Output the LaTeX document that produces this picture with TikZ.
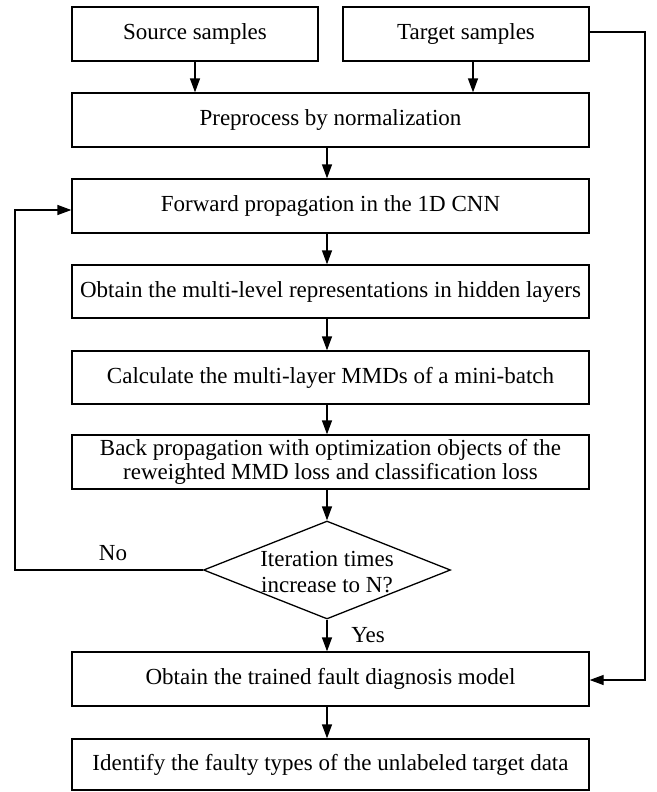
\documentclass[tikz,border=0pt]{standalone}
\usepackage{fontspec}
\setmainfont{Liberation Serif}
\usetikzlibrary{arrows.meta,shapes.geometric}
\begin{document}
\begin{tikzpicture}[x=1pt,y=-1pt,
  lw/.style={line width=1.3pt},
  txt/.style={font=\fontsize{23}{25}\selectfont},
  box/.style={draw,lw,txt,rectangle,inner sep=0pt,minimum height=54pt,align=center},
  wbox/.style={box,minimum width=517pt},
  sbox/.style={box,minimum width=246pt},
  arr/.style={lw,-{Triangle[length=14pt,width=10pt]}},
  lbl/.style={txt,inner sep=0pt}
]
\useasboundingbox (0,0) rectangle (656,792);
\node[sbox] (src) at (195,34) {Source samples};
\node[sbox] (tgt) at (466,34) {Target samples};
\node[wbox] (pre) at (330.5,120) {Preprocess by normalization};
\node[wbox] (fwd) at (330.5,206) {Forward propagation in the 1D CNN};
\node[wbox,minimum height=53pt] (rep) at (330.5,291.5) {Obtain the multi-level representations in hidden layers};
\node[wbox,minimum height=53pt] (mmd) at (330.5,377.5) {Calculate the multi-layer MMDs of a mini-batch};
\node[wbox] (back) at (330.5,462) {Back propagation with optimization objects of the\\[-1pt]reweighted MMD loss and classification loss};
\node[draw,lw,shape=diamond,minimum width=247pt,minimum height=98pt,inner sep=0pt] (dec) at (327,570) {};
\node[lbl,align=center,font=\fontsize{23}{26}\selectfont] (dect) at (327,572) {Iteration times\\increase to N?};
\node[wbox] (trn) at (330.5,679) {Obtain the trained fault diagnosis model};
\node[wbox,minimum height=51pt] (idf) at (330.5,764.5) {Identify the faulty types of the unlabeled target data};
\node[lbl] (no) at (113,553) {No};
\node[lbl] (yes) at (368,635) {Yes};
\coordinate (ax) at (327,0);
\coordinate (lp) at (15,570);
\coordinate (rp) at (645,32);
\draw[arr] (src.south) -- (src.south |- pre.north);
\draw[arr] ([xshift=7pt]tgt.south) -- ([xshift=7pt]tgt.south |- pre.north);
\draw[arr] (pre.south -| ax) -- (fwd.north -| ax);
\draw[arr] (fwd.south -| ax) -- (rep.north -| ax);
\draw[arr] (rep.south -| ax) -- (mmd.north -| ax);
\draw[arr] (mmd.south -| ax) -- (back.north -| ax);
\draw[arr] (back.south -| ax) -- (dec.north);
\draw[arr] (dec.south) -- (trn.north -| ax);
\draw[arr] (trn.south -| ax) -- (idf.north -| ax);
\draw[arr] (dec.west) -- (lp) |- ([yshift=-4pt]fwd.west);
\draw[arr] ([yshift=2pt]tgt.east) -- (rp) |- ([yshift=-1pt]trn.east);
\end{tikzpicture}
\end{document}
